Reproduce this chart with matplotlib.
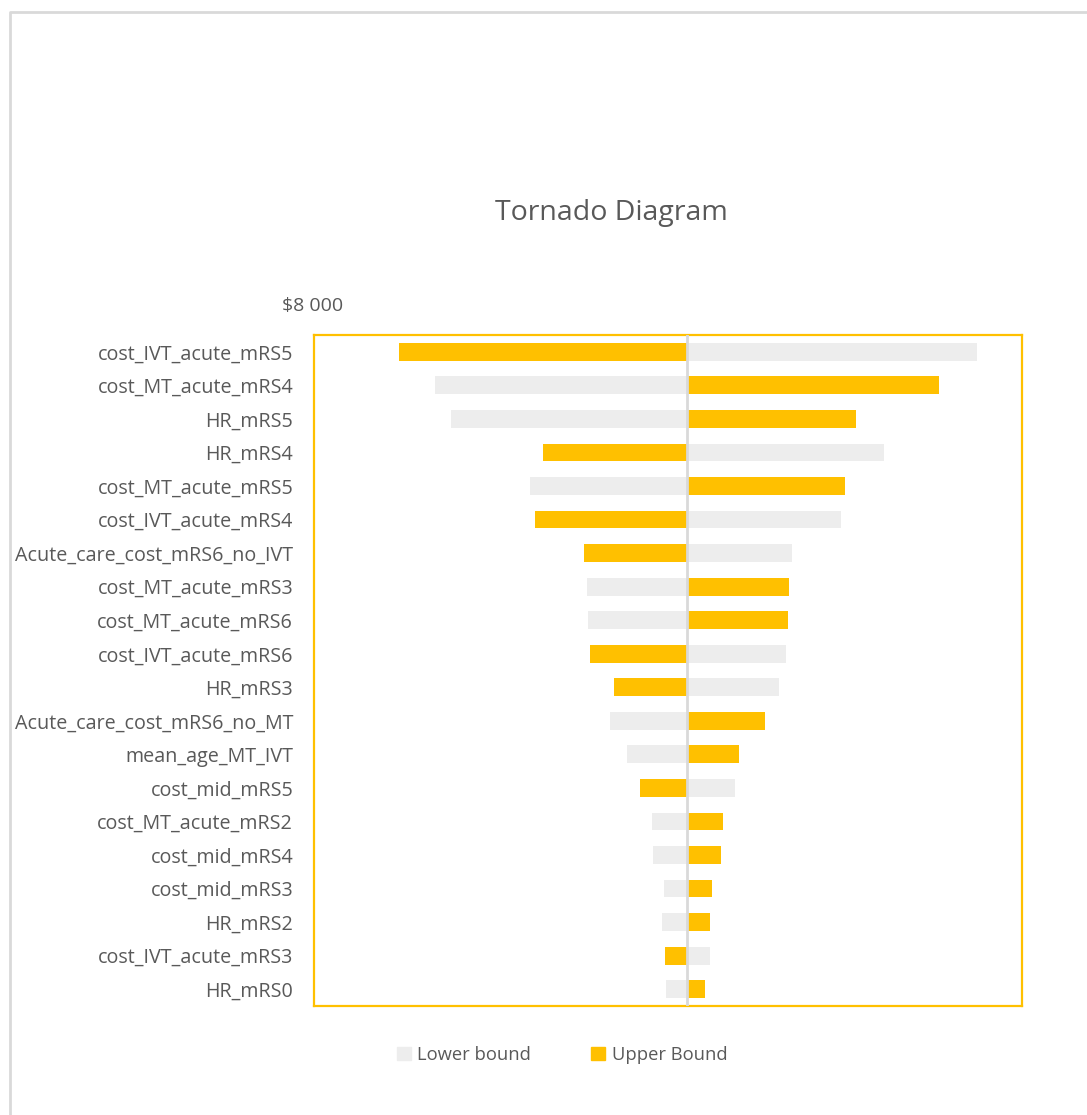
import matplotlib
matplotlib.use("Agg")
import matplotlib.pyplot as plt
from matplotlib.lines import Line2D
from matplotlib.patches import Patch

plt.rcParams['font.family'] = ['Open Sans', 'DejaVu Sans']

# parameters, top to bottom
params = ["cost_IVT_acute_mRS5", "cost_MT_acute_mRS4", "HR_mRS5", "HR_mRS4",
          "cost_MT_acute_mRS5", "cost_IVT_acute_mRS4", "Acute_care_cost_mRS6_no_IVT",
          "cost_MT_acute_mRS3", "cost_MT_acute_mRS6", "cost_IVT_acute_mRS6", "HR_mRS3",
          "Acute_care_cost_mRS6_no_MT", "mean_age_MT_IVT", "cost_mid_mRS5",
          "cost_MT_acute_mRS2", "cost_mid_mRS4", "cost_mid_mRS3", "HR_mRS2",
          "cost_IVT_acute_mRS3", "HR_mRS0"]

base = 11730
lower = [14630, 9210, 9370, 13700, 10160, 13270, 12780, 10730, 10740, 12720,
         12650, 10960, 11130, 12210, 11380, 11390, 11500, 11480, 11960, 11520]
upper = [8850, 14250, 13420, 10290, 13310, 10210, 10700, 12750, 12740, 10760,
         11000, 12510, 12250, 11260, 12090, 12070, 11980, 11960, 11510, 11910]

gray = "#EDEDED"
gold = "#FFC000"
txt = "#595959"

fig = plt.figure(figsize=(10.87, 11.15), dpi=100)
ax = fig.add_axes([314/1087, 109/1115, 708/1087, 671/1115])

y = list(range(len(params)))
lo_d = [v - base for v in lower]
up_d = [v - base for v in upper]
ax.barh(y, lo_d, left=base, height=0.53, color=gray, label="Lower bound")
ax.barh(y, up_d, left=base, height=0.53, color=gold, label="Upper Bound")
ax.axvline(base, color="#D9D9D9", lw=2, zorder=3)

ax.set_xlim(8000, 15080)
ax.set_ylim(19.5, -0.5)
ax.set_yticks(y)
ax.set_yticklabels(params, fontsize=14.2, color=txt)
ax.tick_params(axis='y', length=0, pad=15)
ax.set_xticks([])
for s in ax.spines.values():
    s.set_color(gold)
    s.set_linewidth(1.6)

fig.text(313/1087, 1 - 306/1115, "$8 000", ha="center", va="center", fontsize=14, color=txt)
fig.text(611/1087, 1 - 213/1115, "Tornado Diagram", ha="center", va="center", fontsize=20.5, color=txt)

# outer chart-area border (top and left)
fig.add_artist(Line2D([10/1087, 10/1087, 1], [0, 1 - 12/1115, 1 - 12/1115],
                      transform=fig.transFigure, color="#D9D9D9", lw=2))

handles = [Patch(color=gray), Patch(color=gold)]
fig.legend(handles, ["Lower bound", "Upper Bound"], loc="center",
           bbox_to_anchor=(562/1087, 1 - 1055/1115), ncol=2, frameon=False,
           fontsize=13.2, labelcolor=txt, handlelength=0.75, handleheight=0.75,
           handletextpad=0.35, columnspacing=3.3)

fig.savefig("out.png", dpi=100)
